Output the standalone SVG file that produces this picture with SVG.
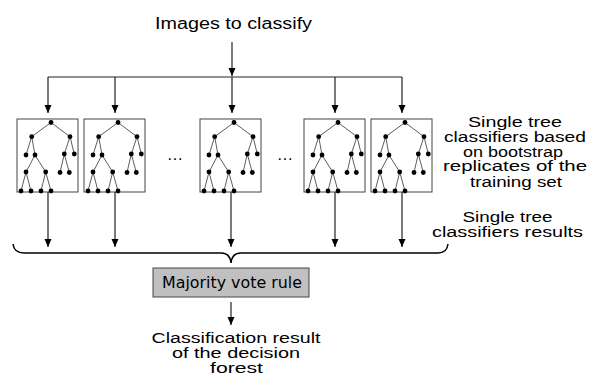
<svg xmlns="http://www.w3.org/2000/svg" xmlns:xlink="http://www.w3.org/1999/xlink" width="589" height="376" viewBox="0 0 589 376">
<style>
.t{font-family:"Liberation Sans",Arial,sans-serif;font-size:16px;fill:#000;text-anchor:middle}
.m{font-size:14px}
.conn{stroke:#222;stroke-width:1.2;fill:none}
.box{fill:#fff;stroke:#444;stroke-width:1}
.edge{stroke:#333;stroke-width:0.8;fill:none}
.dot{fill:#000}
</style>
<defs>
<marker id="ah" markerWidth="8" markerHeight="8" viewBox="0 0 8 8" refX="8" refY="4" orient="auto" markerUnits="userSpaceOnUse">
<path d="M0,0.5 L8,4 L0,7.5 Z" fill="#000"/>
</marker>
<g id="tree">
<rect class="box" x="0" y="0" width="61" height="73"/>
<path class="edge" d="M34,3.5 L14.7,17.7 M34,3.5 L53,17.7 M14.7,17.7 L9,36 M14.7,17.7 L18,36 M53,17.7 L47.3,35 M53,17.7 L57.3,35 M18,36 L9,53 M18,36 L28.7,53 M47.3,35 L43,53.5 M47.3,35 L52.3,53.5 M9,53 L4,72 M9,53 L14,72 M28.7,53 L24,72 M28.7,53 L34,72"/>
<g class="dot">
<circle cx="34" cy="3.5" r="2.4"/>
<circle cx="14.7" cy="17.7" r="2.4"/><circle cx="53" cy="17.7" r="2.4"/>
<circle cx="9" cy="36" r="2.4"/><circle cx="18" cy="36" r="2.4"/><circle cx="47.3" cy="35" r="2.4"/><circle cx="57.3" cy="35" r="2.4"/>
<circle cx="9" cy="53" r="2.4"/><circle cx="28.7" cy="53" r="2.4"/><circle cx="43" cy="53.5" r="2.4"/><circle cx="52.3" cy="53.5" r="2.4"/>
<circle cx="4" cy="72" r="2.4"/><circle cx="14" cy="72" r="2.4"/><circle cx="24" cy="72" r="2.4"/><circle cx="34" cy="72" r="2.4"/>
</g>
</g>
</defs>
<rect width="589" height="376" fill="#fff"/>

<g id="input">
<text class="t" x="233.5" y="29" font-size="17" textLength="157" lengthAdjust="spacingAndGlyphs">Images to classify</text>
</g>

<g id="tree1"><use xlink:href="#tree" href="#tree" x="17" y="119"/></g>
<g id="tree2"><use xlink:href="#tree" href="#tree" x="84" y="119"/></g>
<g id="tree3"><use xlink:href="#tree" href="#tree" x="200" y="119"/></g>
<g id="tree4"><use xlink:href="#tree" href="#tree" x="304" y="119"/></g>
<g id="tree5"><use xlink:href="#tree" href="#tree" x="371" y="119"/></g>

<g id="ellipsis1"><text class="t" x="175" y="160" font-size="18" textLength="15" lengthAdjust="spacing">...</text></g>
<g id="ellipsis2"><text class="t" x="285" y="160" font-size="18" textLength="15" lengthAdjust="spacing">...</text></g>

<g id="label-trees" class="t m">
<text x="515" y="127" textLength="94" lengthAdjust="spacingAndGlyphs">Single tree</text>
<text x="515" y="142" textLength="142" lengthAdjust="spacingAndGlyphs">classifiers based</text>
<text x="513" y="156.5" textLength="100" lengthAdjust="spacingAndGlyphs">on bootstrap</text>
<text x="515" y="171" textLength="144" lengthAdjust="spacingAndGlyphs">replicates of the</text>
<text x="516" y="186.5" textLength="92" lengthAdjust="spacingAndGlyphs">training set</text>
</g>

<g id="label-results" class="t m">
<text x="507.5" y="222" textLength="90" lengthAdjust="spacingAndGlyphs">Single tree</text>
<text x="507.5" y="237" textLength="151" lengthAdjust="spacingAndGlyphs">classifiers results</text>
</g>

<g id="majority">
<rect x="153" y="268" width="156" height="29" fill="#c0c0c0" stroke="#444" stroke-width="1"/>
<text x="232" y="288" font-family="'DejaVu Sans',Verdana,sans-serif" font-size="15" text-anchor="middle" textLength="140" lengthAdjust="spacingAndGlyphs">Majority vote rule</text>
</g>

<g id="output" class="t m">
<text x="236" y="342.5" textLength="169" lengthAdjust="spacingAndGlyphs">Classification result</text>
<text x="236" y="357.5" textLength="128" lengthAdjust="spacingAndGlyphs">of the decision</text>
<text x="236.5" y="372.5" textLength="53" lengthAdjust="spacingAndGlyphs">forest</text>
</g>

<g id="connectors">
<path class="conn" d="M232,42 L232,76" marker-end="url(#ah)"/>
<path class="conn" d="M48,77 L402,77"/>
<path class="conn" d="M48,77 L48,113" marker-end="url(#ah)"/>
<path class="conn" d="M115,77 L115,113" marker-end="url(#ah)"/>
<path class="conn" d="M232,77 L232,113" marker-end="url(#ah)"/>
<path class="conn" d="M335,77 L335,113" marker-end="url(#ah)"/>
<path class="conn" d="M402,77 L402,113" marker-end="url(#ah)"/>
<path class="conn" d="M48,192 L48,247" marker-end="url(#ah)"/>
<path class="conn" d="M115,192 L115,247" marker-end="url(#ah)"/>
<path class="conn" d="M231,192 L231,247" marker-end="url(#ah)"/>
<path class="conn" d="M335,192 L335,247" marker-end="url(#ah)"/>
<path class="conn" d="M402,192 L402,247" marker-end="url(#ah)"/>
<path d="M13,244 Q14,253 24,253 L221,253 Q230,253 231,263 Q232,253 241,253 L438,253 Q447,253 448,244" fill="none" stroke="#000" stroke-width="1.5"/>
<path class="conn" d="M231,302 L231,325" marker-end="url(#ah)"/>
</g>
</svg>
